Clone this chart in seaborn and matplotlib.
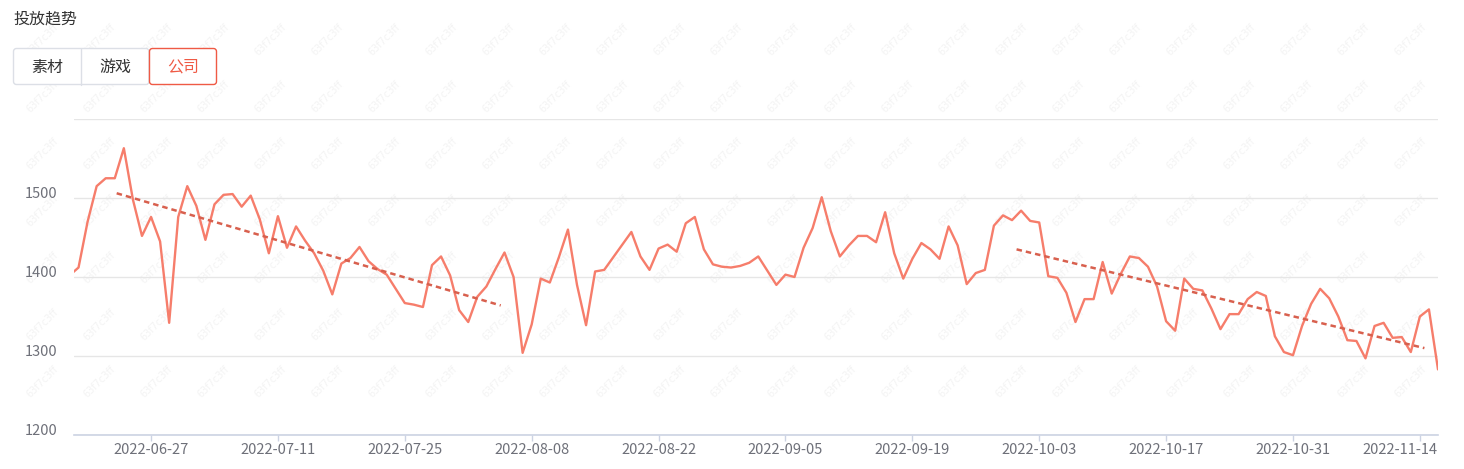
import pandas as pd
import matplotlib.pyplot as plt
from matplotlib.patches import FancyBboxPatch
from matplotlib.lines import Line2D
from matplotlib.transforms import ScaledTranslation, IdentityTransform
import seaborn as sns

# header / tabs
title = "投放趋势"
tabs = ["素材", "游戏", "公司"]
active_tab = "公司"
watermark = "63f7c3ff"

# daily series (2022-06-18 .. 2022-11-16)
start_date = "2022-06-18"
values = [
    1402, 1412, 1470, 1515, 1525, 1525, 1563, 1498, 1452, 1476,
    1445, 1342, 1476, 1515, 1490, 1447, 1492, 1504, 1505, 1489,
    1503, 1473, 1430, 1477, 1437, 1464, 1446, 1430, 1408, 1378,
    1417, 1424, 1438, 1420, 1410, 1403, 1385, 1367, 1365, 1362,
    1415, 1426, 1402, 1358, 1343, 1375, 1388, 1410, 1431, 1400,
    1304, 1340, 1398, 1393, 1425, 1460, 1390, 1339, 1407, 1409,
    1425, 1441, 1457, 1426, 1409, 1436, 1441, 1432, 1468, 1476,
    1435, 1416, 1413, 1412, 1414, 1418, 1426, 1408, 1390, 1403,
    1400, 1437, 1462, 1501, 1458, 1426, 1440, 1452, 1452, 1444,
    1482, 1430, 1398, 1423, 1443, 1435, 1423, 1464, 1440, 1391,
    1405, 1409, 1465, 1478, 1472, 1484, 1471, 1469, 1401, 1399,
    1380, 1343, 1372, 1372, 1419, 1379, 1404, 1426, 1424, 1413,
    1388, 1344, 1332, 1398, 1385, 1383, 1360, 1334, 1353, 1353,
    1372, 1381, 1376, 1325, 1305, 1301, 1338, 1366, 1385, 1373,
    1350, 1320, 1319, 1297, 1338, 1342, 1323, 1324, 1305, 1350,
    1359, 1283,
]

# dashed trend segments
trend1_dates = ["2022-06-23 05:00", "2022-08-04 14:00"]
trend1_values = [1506, 1364]
trend2_dates = ["2022-09-30 12:00", "2022-11-14 12:00"]
trend2_values = [1435, 1310]

tick_dates = ["2022-06-27", "2022-07-11", "2022-07-25", "2022-08-08",
              "2022-08-22", "2022-09-05", "2022-09-19", "2022-10-03",
              "2022-10-17", "2022-10-31", "2022-11-14"]
y_ticks = [1200, 1300, 1400, 1500, 1600]
y_labels = ["1200", "1300", "1400", "1500", ""]

LINE = "#f67d6b"
TREND = "#d8604e"
RED = "#ef5a45"
LABEL = "#6e7079"

sns.set_theme(style="white")
plt.rcParams["font.family"] = ["Noto Sans CJK SC", "DejaVu Sans"]

W, H = 1464, 469
fig = plt.figure(figsize=(W / 100, H / 100), dpi=100)
fig.patch.set_facecolor("white")

ax = fig.add_axes([74 / W, 1 - 435 / H, 1364 / W, 316 / H])
ax.set_facecolor("none")

dates = pd.date_range(start_date, periods=len(values), freq="D")
df = pd.DataFrame({"date": dates, "value": values})
sns.lineplot(data=df, x="date", y="value", ax=ax, color=LINE, linewidth=1.7, zorder=3)

for td, tv in [(trend1_dates, trend1_values), (trend2_dates, trend2_values)]:
    sns.lineplot(x=pd.to_datetime(td), y=tv, ax=ax, color=TREND, linewidth=1.8, zorder=4)
    ax.lines[-1].set_dashes((2.2, 1.6))

ax.set_xlim(pd.Timestamp("2022-06-18 12:00"), pd.Timestamp("2022-11-16"))
ax.set_ylim(1200, 1600)
ax.set_yticks(y_ticks)
ax.set_yticklabels(y_labels)
ax.set_xticks(pd.to_datetime(tick_dates))
ax.set_xticklabels(tick_dates)
ax.set_xlabel("")
ax.set_ylabel("")

ax.grid(axis="y", color="#e6e6e6", linewidth=1)
ax.grid(axis="x", visible=False)
for s in ["left", "top", "right"]:
    ax.spines[s].set_visible(False)
ax.spines["bottom"].set_color("#ccd3e3")
ax.spines["bottom"].set_linewidth(1.2)
ax.tick_params(axis="y", length=0, pad=12, labelcolor=LABEL, labelsize=10.5)
ax.tick_params(axis="x", length=4, width=1, color="#ccd3e3", pad=2,
               labelcolor=LABEL, labelsize=10.5, bottom=True)
for lbl in ax.get_yticklabels():
    lbl.set_transform(lbl.get_transform() + ScaledTranslation(0, 0.06, fig.dpi_scale_trans))
# last date label is pulled back inside the plot edge, as in the original
last = ax.get_xticklabels()[-1]
last.set_transform(last.get_transform() + ScaledTranslation(-0.2, 0, fig.dpi_scale_trans))

# header
fig.text(13 / W, 1 - 19 / H, title, fontsize=11.5, color="#333333", va="center", ha="left")

# tab buttons (pixel coordinates)
px = IdentityTransform()
fig.patches.append(FancyBboxPatch((13.5, H - 84.5), 135.5, 36,
                                  boxstyle="round,pad=0,rounding_size=3",
                                  fc="white", ec="#dcdfe6", lw=1, transform=px, figure=fig))
fig.lines.append(Line2D([81, 81], [H - 84.5, H - 48.5], color="#dcdfe6", lw=1,
                        transform=px, figure=fig))
fig.patches.append(FancyBboxPatch((149.5, H - 84.5), 67, 36,
                                  boxstyle="round,pad=0,rounding_size=3",
                                  fc="white", ec=RED, lw=1, transform=px, figure=fig))
for i, t in enumerate(tabs):
    cx = 47 + 68 * i
    fig.text(cx / W, 1 - 67 / H, t, fontsize=11.5, ha="center", va="center",
             color=RED if t == active_tab else "#333333")

# faint watermark, kept fully inside the canvas
for wx in range(42, W - 30, 57):
    for wy in range(40, H - 30, 57):
        fig.text(wx / W, 1 - wy / H, watermark, rotation=45, fontsize=7,
                 color="#f3f3f3", ha="center", va="center", zorder=-5,
                 family="DejaVu Sans")

fig.savefig("out.png", dpi=100)
